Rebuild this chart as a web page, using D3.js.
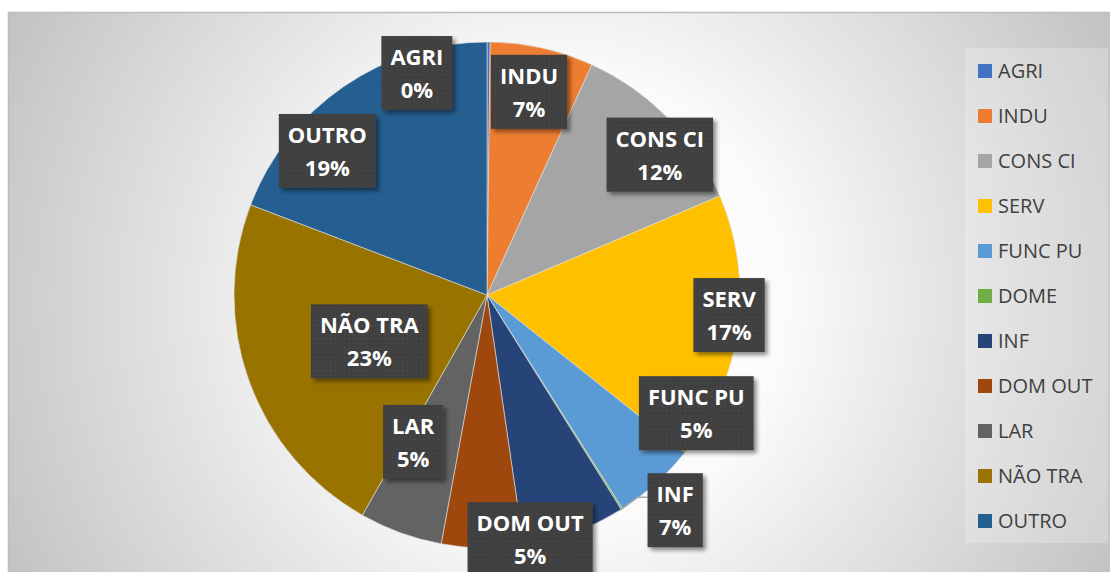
<!DOCTYPE html>
<html>
<head>
<meta charset="utf-8">
<script src="https://cdn.jsdelivr.net/npm/d3@7"></script>
<style>
  body { margin: 0; background: #ffffff; }
  svg { display: block; }
</style>
</head>
<body>
<svg></svg>
<script>
var svg_width = 1110;
var svg_height = 572;

// DATA (share of total, %)
var categories = ["AGRI", "INDU", "CONS CI", "SERV", "FUNC PU", "DOME", "INF", "DOM OUT", "LAR", "NÃO TRA", "OUTRO"];
var shares = [0.2, 6.6, 11.8, 17.1, 5.3, 0.1, 6.6, 5.2, 5.3, 22.6, 19.2];
var showLabel = [true, true, true, true, true, false, true, true, true, true, true];

var colors = ["#4472C4", "#ED7D31", "#A5A5A5", "#FFC000", "#5B9BD5", "#70AD47",
              "#264478", "#9E480E", "#636363", "#997300", "#255E91"];

// label placement relative to slice: [radius fraction, angle shift in degrees]
var labelPlace = [[0.92, -17.9], [0.82, -0.9], [0.88, 5.2], [0.96, -3], [0.95, -18.6], [0, 0],
                  [1.13, -21], [0.98, -11.1], [0.65, 6.7], [0.50, -1.7], [0.85, -13.4]];

var cx = 487, cy = 295, radius = 253;

var svg = d3.select("svg")
    .attr("width", svg_width)
    .attr("height", svg_height);

var defs = svg.append("defs");

// background radial gradient
var grad = defs.append("radialGradient")
    .attr("id", "bg")
    .attr("gradientUnits", "userSpaceOnUse")
    .attr("cx", 560).attr("cy", 300).attr("r", 620);
[[0, "#ffffff"], [0.36, "#fbfbfb"], [0.6, "#e5e5e5"], [1, "#c2c2c2"]].forEach(function(s) {
  grad.append("stop").attr("offset", s[0]).attr("stop-color", s[1]);
});

// dotted pattern for the label boxes
var pat = defs.append("pattern")
    .attr("id", "dots")
    .attr("patternUnits", "userSpaceOnUse")
    .attr("width", 4.5).attr("height", 4.5);
pat.append("rect").attr("width", 4.5).attr("height", 4.5).attr("fill", "#3f3f3f");
pat.append("rect").attr("x", 1.5).attr("y", 1.5).attr("width", 1.2).attr("height", 1.2).attr("fill", "#4f4f4f");

var shadow = defs.append("filter")
    .attr("id", "shadow")
    .attr("x", "-20%").attr("y", "-20%").attr("width", "150%").attr("height", "150%");
shadow.append("feDropShadow")
    .attr("dx", 3).attr("dy", 3).attr("stdDeviation", 2.2)
    .attr("flood-color", "#000").attr("flood-opacity", 0.45);

// CHART AREA
svg.append("rect")
    .attr("x", 8.5).attr("y", 12.5)
    .attr("width", svg_width + 10).attr("height", svg_height + 10)
    .attr("fill", "url(#bg)")
    .attr("stroke", "#bdbdbd")
    .attr("stroke-width", 1.5);

// PIE
var pie = d3.pie().sort(null).value(function(d) { return d; });
var arcs = pie(shares);
var arc = d3.arc().innerRadius(0).outerRadius(radius);

var g = svg.append("g").attr("transform", "translate(" + cx + "," + cy + ")");

g.selectAll("path")
  .data(arcs)
  .enter()
  .append("path")
    .attr("d", arc)
    .attr("fill", function(d, i) { return colors[i]; })
    .attr("stroke", "#e0e0e0")
    .attr("stroke-width", 0.6);

function polar(r, a) {
  return [r * Math.sin(a), -r * Math.cos(a)];
}

var pctFormat = d3.format(".0%");
var total = d3.sum(shares);

// LABELS
var labels = g.selectAll("g.lbl")
  .data(arcs.filter(function(d, i) { return showLabel[i]; }))
  .enter()
  .append("g")
    .attr("class", "lbl")
    .attr("transform", function(d) {
      var p = labelPlace[d.index];
      var mid = (d.startAngle + d.endAngle) / 2 + p[1] * Math.PI / 180;
      var pt = polar(radius * p[0], mid);
      return "translate(" + pt[0] + "," + pt[1] + ")";
    });

labels.append("rect").attr("fill", "url(#dots)").attr("filter", "url(#shadow)");

labels.append("text")
    .attr("class", "l1")
    .attr("y", -8)
    .attr("text-anchor", "middle")
    .attr("font-family", "'Open Sans', sans-serif")
    .attr("font-weight", "bold")
    .attr("font-size", "22px")
    .attr("fill", "#ffffff")
    .text(function(d) { return categories[d.index]; });

labels.append("text")
    .attr("class", "l2")
    .attr("y", 25)
    .attr("text-anchor", "middle")
    .attr("font-family", "'Open Sans', sans-serif")
    .attr("font-weight", "bold")
    .attr("font-size", "22px")
    .attr("fill", "#ffffff")
    .text(function(d) { return pctFormat(d.value / total); });

labels.each(function(d) {
  var sel = d3.select(this);
  var w = Math.max(sel.select(".l1").node().getComputedTextLength(),
                   sel.select(".l2").node().getComputedTextLength()) + 18;
  sel.select("rect")
      .attr("x", -w / 2).attr("y", -37)
      .attr("width", w).attr("height", 74);
  d.boxW = w;
});

// leader line for INF
var infArc = arcs[categories.indexOf("INF")];
var infLabel = labels.filter(function(d) { return d.index === infArc.index; });
var t = d3.select(infLabel.node()).attr("transform").match(/translate\(([-\d.]+),([-\d.]+)\)/);
var lx = +t[1] - infArc.boxW / 2, ly = +t[2] - 13;
var e = polar(radius, infArc.startAngle + 0.003);
g.insert("polyline", "g.lbl")
    .attr("points", [e, [lx - 10, ly], [lx, ly]].map(function(p) { return p.join(","); }).join(" "))
    .attr("fill", "none")
    .attr("stroke", "#a6a6a6")
    .attr("stroke-width", 1.5);

// LEGEND
var legend = svg.append("g");
legend.append("rect")
    .attr("x", 965).attr("y", 48)
    .attr("width", 143).attr("height", 495)
    .attr("fill", "#ffffff").attr("fill-opacity", 0.22);

var legendY = d3.scalePoint()
    .domain(categories)
    .range([71, 521]);

var items = legend.selectAll("g.item")
  .data(categories)
  .enter()
  .append("g")
    .attr("class", "item")
    .attr("transform", function(d) { return "translate(978," + legendY(d) + ")"; });

items.append("rect")
    .attr("x", 0).attr("y", -7)
    .attr("width", 14).attr("height", 14)
    .attr("fill", function(d, i) { return colors[i]; });

items.append("text")
    .attr("x", 20)
    .attr("y", 7)
    .attr("font-family", "'Open Sans', sans-serif")
    .attr("font-size", "20px")
    .attr("fill", "#404040")
    .text(function(d) { return d; });
</script>
</body>
</html>
